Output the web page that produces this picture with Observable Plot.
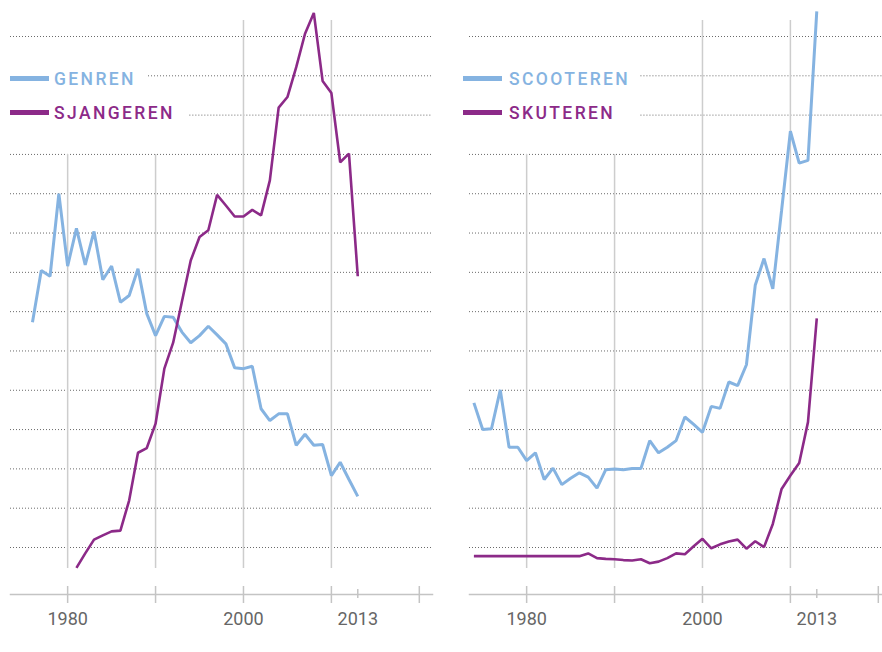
<!DOCTYPE html>
<html>
<head>
<meta charset="utf-8">
<script src="https://cdn.jsdelivr.net/npm/d3@7"></script>
<script src="https://cdn.jsdelivr.net/npm/@observablehq/plot@0.6"></script>
<style>
  html, body { margin: 0; padding: 0; background: #fff; overflow: hidden; }
  #wrap { position: relative; width: 882px; height: 652px; overflow: hidden; background: #fff; }
  .panel { position: absolute; top: 0; width: 459px; height: 652px; }
  .leg { position: absolute; font-family: Roboto, "DejaVu Sans", sans-serif; font-weight: 500;
         font-size: 17.5px; line-height: 17.5px; letter-spacing: 2.4px; white-space: nowrap; }
  .sw { position: absolute; width: 39px; height: 5px; }
</style>
</head>
<body>
<div id="wrap">
  <div class="panel" id="left" style="left:0"></div>
  <div class="panel" id="right" style="left:459px"></div>
</div>
<script>
// ---- data (relative frequency, arbitrary units) ----
const genrenYears = d3.range(1976, 2014);
const genren = [67.3, 80.5, 79.0, 100.0, 81.6, 91.2, 81.9, 90.4, 78.1, 81.6,
                72.4, 74.1, 80.9, 69.5, 63.9, 68.8, 68.6, 64.8, 62.1, 63.9,
                66.3, 64.1, 61.8, 55.7, 55.5, 56.1, 45.3, 42.3, 44.0, 44.0,
                36.0, 38.8, 36.0, 36.2, 28.3, 31.7, 27.3, 23.0];

const sjangerenYears = d3.range(1981, 2014);
const sjangeren = [4.8, 8.5, 12.0, 13.1, 14.1, 14.3, 22.0, 34.1, 35.3, 41.5,
                   55.5, 62.1, 72.6, 83.0, 89.0, 90.7, 99.7, 97.0, 94.2, 94.2,
                   95.9, 94.5, 103.4, 121.9, 124.6, 132.2, 140.7, 146.0, 128.7, 125.6,
                   108.0, 110.2, 79.0];

const scooterenYears = d3.range(1974, 2014);
const scooteren = [46.8, 40.0, 40.2, 50.1, 35.5, 35.5, 32.1, 34.1, 27.3, 30.2,
                   26.0, 27.6, 29.0, 27.9, 25.1, 29.8, 30.0, 29.8, 30.1, 30.1,
                   37.2, 34.1, 35.5, 37.2, 43.2, 41.3, 39.3, 45.9, 45.4, 52.1,
                   51.2, 56.5, 76.7, 83.5, 75.8, 95.8, 115.9, 107.8, 108.5, 146.4];

const skuterenYears = d3.range(1974, 2014);
const skuteren = [7.8, 7.8, 7.8, 7.8, 7.8, 7.8, 7.8, 7.8, 7.8, 7.8,
                  7.8, 7.8, 7.8, 8.5, 7.3, 7.1, 7.0, 6.8, 6.7, 7.0,
                  6.0, 6.4, 7.3, 8.5, 8.3, 10.3, 12.2, 9.8, 10.8, 11.5,
                  12.0, 9.7, 11.6, 10.1, 16.0, 24.9, 28.3, 31.5, 41.9, 68.3];

const gridValues = [10, 20, 30, 40, 50, 60, 70, 80, 90, 100, 110, 120, 130, 140];
const gridYears = [1980, 1990, 2000, 2010];
const tickYears = [1980, 1990, 2000, 2010, 2020];
const labelYears = [1980, 2000, 2013];
const markYear = 2013;

const BLUE = "#85b3e1";
const PURPLE = "#8c2a88";
const X0 = 1973.5, X1 = 2021.5;
const YBOT = 4.66, YTOP = 144.1;

function panel(seriesA, seriesB, legendGap) {
  const toRows = (years, vals) => years.map((year, i) => ({year, v: vals[i]}));
  const hGrid = gridValues.map(v => ({v, x1: legendGap[v] ?? X0}));
  const vGrid = gridYears.map(year => ({year, top: year < 1995 ? 110 : YTOP}));
  return Plot.plot({
    width: 459, height: 652,
    marginLeft: 10, marginRight: 27, marginTop: 0, marginBottom: 66,
    x: {domain: [X0, X1], axis: null},
    y: {domain: [10, 140], range: [547, 36], axis: null},
    style: {background: "transparent", overflow: "visible", fontFamily: "Roboto, sans-serif"},
    marks: [
      Plot.ruleY(hGrid, {y: "v", x1: "x1", x2: X1, stroke: "#6a6a6a", strokeWidth: 1, strokeDasharray: "1,2"}),
      Plot.ruleX(vGrid, {x: "year", y1: YBOT, y2: "top", stroke: "#cdcdcd", strokeWidth: 1.5}),
      Plot.frame({anchor: "bottom", dy: 8, stroke: "#c4c4c4", strokeWidth: 1.5}),
      Plot.axisX(tickYears, {tickSize: 17, stroke: "#c4c4c4", strokeWidth: 1.5, fill: "none", label: null}),
      Plot.axisX([markYear], {tickSize: 9, dy: 3, stroke: "#c4c4c4", strokeWidth: 1.5, fill: "none", label: null}),
      Plot.axisX(labelYears, {tickSize: 0, tickPadding: 26, fill: "#666", fontSize: 18, tickFormat: d => String(d), label: null}),
      Plot.line(toRows(seriesA.years, seriesA.values), {x: "year", y: "v", stroke: BLUE, strokeWidth: 3, strokeLinejoin: "miter", strokeLinecap: "butt"}),
      Plot.line(toRows(seriesB.years, seriesB.values), {x: "year", y: "v", stroke: PURPLE, strokeWidth: 2.6, strokeLinejoin: "miter", strokeLinecap: "butt"})
    ]
  });
}

document.getElementById("left").append(panel(
  {years: genrenYears, values: genren},
  {years: sjangerenYears, values: sjangeren},
  {130: 1989.2, 120: 1993.9}
));
document.getElementById("right").append(panel(
  {years: scooterenYears, values: scooteren},
  {years: skuterenYears, values: skuteren},
  {130: 1993.0, 120: 1993.0}
));

// legends
const legends = [
  {panel: "left", sx: 10, tx: 54, items: [["GENREN", BLUE], ["SJANGEREN", PURPLE]]},
  {panel: "right", sx: 4, tx: 50, items: [["SCOOTEREN", BLUE], ["SKUTEREN", PURPLE]]}
];
const rowY = [78, 112];
for (const L of legends) {
  const host = document.getElementById(L.panel);
  L.items.forEach(([label, color], i) => {
    const sw = document.createElement("div");
    sw.className = "sw";
    sw.style.left = L.sx + "px";
    sw.style.top = (rowY[i] - 2.5) + "px";
    sw.style.background = color;
    host.append(sw);
    const t = document.createElement("div");
    t.className = "leg";
    t.style.left = L.tx + "px";
    t.style.top = (rowY[i] - 7.5) + "px";
    t.style.color = color;
    t.textContent = label;
    host.append(t);
  });
}
</script>
</body>
</html>
